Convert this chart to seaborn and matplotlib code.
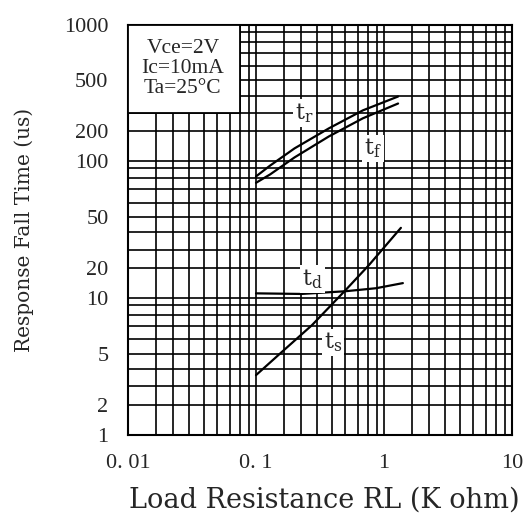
import numpy as np
import pandas as pd
import matplotlib
matplotlib.use("Agg")
import matplotlib.pyplot as plt
from matplotlib.patches import Rectangle
import seaborn as sns

# curves (RL in K ohm, time in us)
tr_rl = [0.1, 0.15, 0.26, 0.48, 0.75, 1.5]
tr_t = [82, 94, 143, 216, 314, 395]
tf_rl = [0.1, 0.15, 0.26, 0.48, 0.75, 1.5]
tf_t = [76, 84, 113, 183, 270, 354]
td_rl = [0.1, 0.30, 0.6, 0.885, 1.67]
td_t = [11.6, 11.4, 12.3, 13.3, 15.0]
ts_rl = [0.1, 0.19, 0.366, 0.6, 0.81, 1.6]
ts_t = [3.66, 5.1, 7.1, 12.6, 21.6, 43]

x_ticks = [0.01, 0.1, 1, 10]
x_labels = ["0. 01", "0. 1", "1", "10"]
y_ticks = [1, 2, 5, 10, 20, 50, 100, 200, 500, 1000]
conditions = ["Vce=2V", "Ic=10mA", "Ta=25°C"]

# the printed grid is not a true log grid; spacing of 1..10 inside a decade
M = np.arange(1, 11)
F = [0, 0.22, 0.355, 0.48, 0.593, 0.698, 0.795, 0.875, 0.948, 1.0]


def fwd(v):
    v = np.asarray(v, dtype=float)
    pos = v > 0
    vv = np.where(pos, v, 1.0)
    k = np.floor(np.log10(vv) + 1e-9)
    out = k + np.interp(vv / 10.0 ** k, M, F)
    return np.where(pos, out, -10.0)


def inv(t):
    t = np.asarray(t, dtype=float)
    k = np.floor(t)
    return 10.0 ** k * np.interp(t - k, F, M)


frames = []
for name, xs, ys in [("tr", tr_rl, tr_t), ("tf", tf_rl, tf_t),
                     ("td", td_rl, td_t), ("ts", ts_rl, ts_t)]:
    frames.append(pd.DataFrame({"curve": name, "rl": xs, "time": ys}))
df = pd.concat(frames, ignore_index=True)

sns.set_style("white")
plt.rcParams["mathtext.fontset"] = "dejavuserif"
fig = plt.figure(figsize=(5.24, 5.20), dpi=100)
ax = fig.add_axes([128 / 524, 85 / 520, 384 / 524, 410.5 / 520])

sns.lineplot(data=df, x="rl", y="time", units="curve", estimator=None,
             sort=False, color="black", lw=1.6, ax=ax, zorder=4)

ax.set_xscale("function", functions=(fwd, inv))
ax.set_yscale("function", functions=(fwd, inv))
ax.set_xlim(0.01, 10)
ax.set_ylim(1, 1000)

x_minor = [m * 10.0 ** k for k in (-2, -1, 0) for m in range(2, 10)]
y_minor = [m * 10.0 ** k for k in (0, 1, 2) for m in (3, 4, 6, 7, 8, 9)]
ax.set_xticks(x_ticks)
ax.set_xticklabels(x_labels)
ax.set_xticks(x_minor, minor=True)
ax.set_yticks(y_ticks)
ax.set_yticklabels([str(v) for v in y_ticks])
ax.set_yticks(y_minor, minor=True)
ax.xaxis.set_minor_formatter(plt.NullFormatter())
ax.yaxis.set_minor_formatter(plt.NullFormatter())

ax.grid(True, which="both", color="black", lw=1.2)
ax.set_axisbelow(True)
ax.tick_params(which="both", length=0)
ax.tick_params(axis="x", pad=14)
ax.tick_params(axis="y", pad=14)
for lab in ax.get_xticklabels() + ax.get_yticklabels():
    lab.set_fontfamily("Liberation Serif")
    lab.set_fontsize(16)
for sp in ax.spines.values():
    sp.set_color("black")
    sp.set_linewidth(1.5)

ax.set_xlabel("Load Resistance RL (K ohm)", fontfamily="DejaVu Serif",
              fontsize=19.5)
ax.set_ylabel("Response Fall Time (us)", fontfamily="DejaVu Serif",
              fontsize=14.5)
ax.xaxis.set_label_coords(0.51, -0.125)
ax.yaxis.set_label_coords(-0.245, 0.5)

# condition box in the upper left corner
ax.add_patch(Rectangle((0.01, 300), 0.08 - 0.01, 1000 - 300,
                       facecolor="white", edgecolor="black", lw=1.3,
                       zorder=3))
ax.text(0.143, 0.893, "\n".join(conditions), transform=ax.transAxes,
        ha="center", va="center", fontsize=15.5, linespacing=1.1,
        fontfamily="Liberation Serif", zorder=5)

box = dict(facecolor="white", edgecolor="none", pad=1.5)
for txt, xy in [(r"$\mathrm{t_r}$", (0.32, 300)), (r"$\mathrm{t_f}$", (0.85, 143)),
                (r"$\mathrm{t_d}$", (0.37, 16.3)), (r"$\mathrm{t_s}$", (0.51, 5.8))]:
    ax.text(xy[0], xy[1], txt, ha="center", va="center", fontsize=16,
            bbox=box, zorder=5)

fig.savefig("out.png", dpi=100)
